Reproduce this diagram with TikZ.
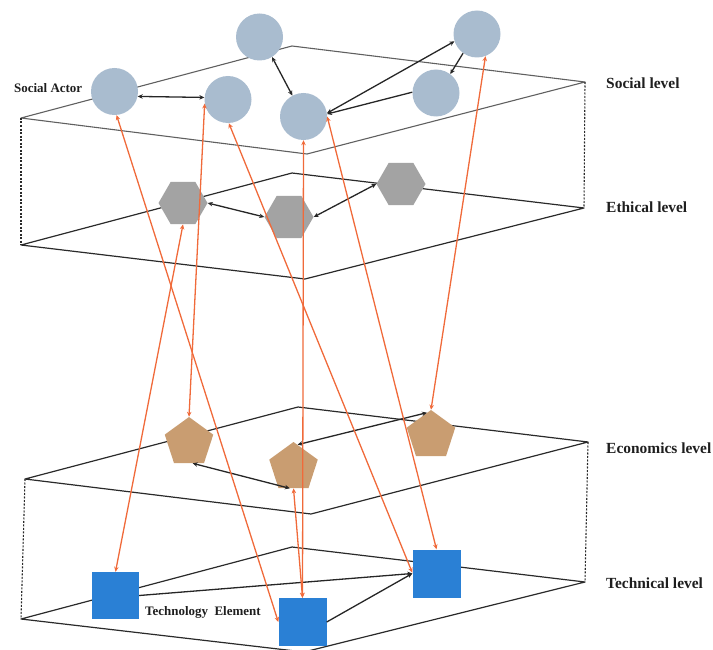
\documentclass[tikz,border=0pt]{standalone}
\usepackage{fontspec}
\setmainfont{Liberation Serif}
\usetikzlibrary{arrows.meta,shapes.geometric}
\definecolor{circc}{HTML}{A9BCCF}
\definecolor{hexc}{HTML}{A3A3A3}
\definecolor{pentc}{HTML}{C99D71}
\definecolor{sqc}{HTML}{2A80D5}
\definecolor{orng}{HTML}{F06A3A}
\definecolor{planetop}{HTML}{606060}
\definecolor{planedark}{HTML}{2A2A2A}
\definecolor{txt}{HTML}{1E1E1E}
\begin{document}
\begin{tikzpicture}[x=1bp,y=-1bp,
  plane/.style={line width=1.2bp,draw=planedark,line join=round},
  planeT/.style={line width=1.1bp,draw=planetop,line join=round},
  vdash/.style={line width=1.1bp,draw=planedark,dash pattern=on 2bp off 1.5bp},
  actor/.style={circle,fill=circc,minimum size=47bp,inner sep=0pt},
  ethic/.style={regular polygon,regular polygon sides=6,fill=hexc,minimum size=49bp,inner sep=0pt},
  econ/.style={regular polygon,regular polygon sides=5,fill=pentc,minimum size=51bp,inner sep=0pt},
  techbox/.style={rectangle,fill=sqc,minimum size=48bp,inner sep=0pt},
  barr/.style={line width=1.3bp,draw=black!85,-{Stealth[length=5bp,width=4.5bp]}},
  barrtwo/.style={line width=1.3bp,draw=black!85,{Stealth[length=5bp,width=4.5bp]}-{Stealth[length=5bp,width=4.5bp]}},
  oarr/.style={line width=1.3bp,draw=orng,{Stealth[length=5bp,width=4.5bp]}-{Stealth[length=5bp,width=4.5bp]}},
  lvl/.style={anchor=west,text=txt,font=\bfseries\fontsize{15.5}{18}\selectfont,inner sep=0pt},
  tag/.style={anchor=west,text=txt,font=\bfseries\fontsize{13}{15}\selectfont,inner sep=0pt}
]
\useasboundingbox (0,0) rectangle (713,650);

% ---- planes ----
% social (top face)
\coordinate (sL) at (21,118); \coordinate (sT) at (292,46);
\coordinate (sR) at (585,82); \coordinate (sB) at (307,154);
\draw[planeT] (sL) -- (sT) -- (sR) -- (sB) -- cycle;
% ethical
\coordinate (eL) at (21,245); \coordinate (eT) at (292,173);
\coordinate (eR) at (584,208); \coordinate (eB) at (305,279);
\draw[plane] (eL) -- (eT) -- (eR) -- (eB) -- cycle;
\draw[vdash] (sL) -- (eL);
\draw[vdash] (sR) -- (eR);
% economics
\coordinate (cL) at (25,479); \coordinate (cT) at (298,407);
\coordinate (cR) at (588,442); \coordinate (cB) at (311,514);
\draw[plane] (cL) -- (cT) -- (cR) -- (cB) -- cycle;
% technical
\coordinate (tL) at (21,619); \coordinate (tT) at (292,547);
\coordinate (tR) at (585,582); \coordinate (tB) at (304,652);
\draw[plane] (tL) -- (tT) -- (tR) -- (tB) -- cycle;
\draw[vdash] (cL) -- (tL);
\draw[vdash] (cR) -- (tR);

% ---- nodes ----
\node[actor] (c1) at (114.5,91.5) {};
\node[actor] (c2) at (228,99.5) {};
\node[actor] (c3) at (259.5,37) {};
\node[actor] (c4) at (303.5,116.5) {};
\node[actor] (c5) at (477,34) {};
\node[actor] (c6) at (436,93) {};

\node[ethic] (h1) at (183,203) {};
\node[ethic] (h2) at (289,217) {};
\node[ethic] (h3) at (401,184) {};

\node[econ] (p1) at (189,442.5) {};
\node[econ] (p2) at (293.5,467.5) {};
\node[econ] (p3) at (431,435.5) {};

\node[techbox,minimum size=47bp] (s1) at (115.5,595.5) {};
\node[techbox] (s2) at (302.5,622) {};
\node[techbox] (s3) at (436.5,573.5) {};

% ---- black arrows ----
\draw[barrtwo] (c1.-12) -- (c2.175);
\draw[barrtwo] (c3.-58) -- (c4.118);
\draw[barrtwo] (c4.8) -- (c5.198);
\draw[barr] (c6.178) -- (c4.6);
\draw[barr] (c5.234) -- (c6.53);
\draw[barrtwo] (h1.east) -- (h2.west);
\draw[barrtwo] (h2.east) -- (h3.west);
\draw[barrtwo] (p2.80) -- (p3.100);
\draw[barrtwo] (p1.-80) -- (p2.-100);
\draw[barr] (s1.east) -- (s3.west);
\draw[barr] (s2.east) -- (s3.west);

% ---- orange arrows ----
\draw[oarr] (c1.-85) -- (s2.west);
\draw[oarr] (c2.190) -- (p1.north);
\draw[oarr] (c2.-88) -- (s3.178);
\draw[oarr] (c4.south) -- (s2.north);
\draw[oarr] (c4.0) -- (s3.north);
\draw[oarr] (c5.-69) -- (p3.north);
\draw[oarr] (h1.south) -- (s1.north);
\draw[oarr] (p2.south) -- (s2.north);

% ---- labels ----
\node[tag] (lactor) at (14,88) {Social Actor};
\node[tag] (ltech) at (145,612) {Technology\ \ Element};
\node[lvl] (lsoc) at (606,83) {Social level};
\node[lvl] (leth) at (606,207) {Ethical level};
\node[lvl] (leco) at (606,448) {Economics level};
\node[lvl] (ltec) at (606,583) {Technical level};
\end{tikzpicture}
\end{document}
